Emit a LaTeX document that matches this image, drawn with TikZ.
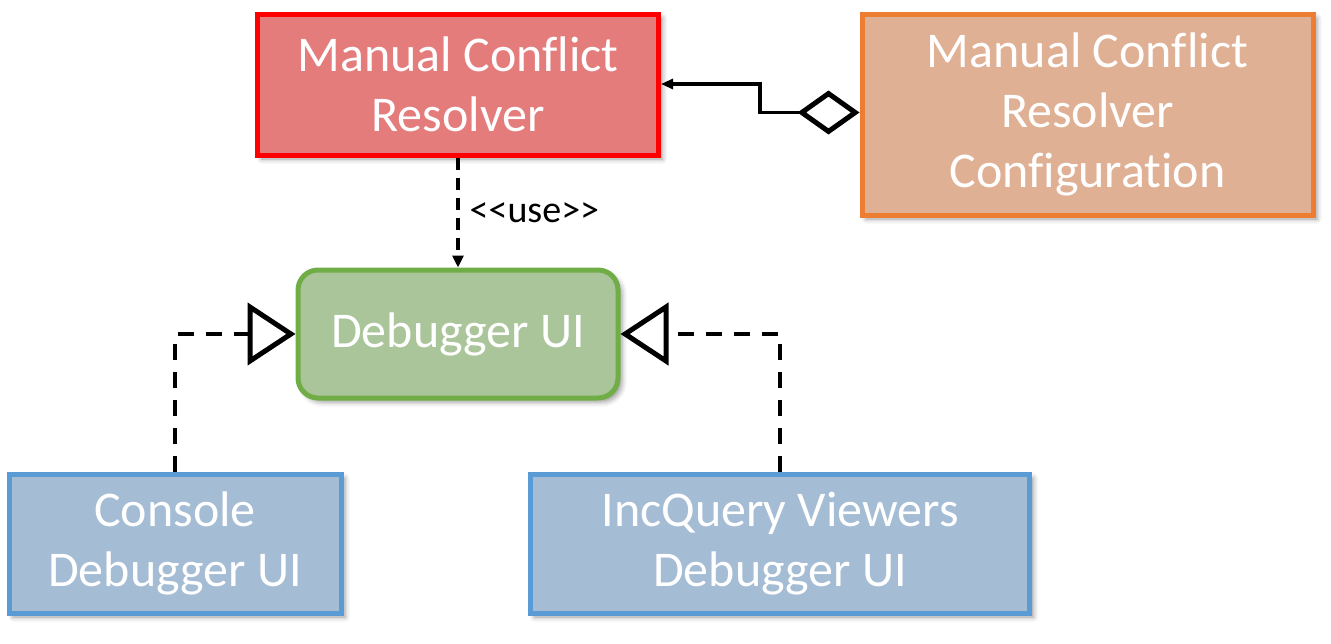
\documentclass[tikz,border=0pt]{standalone}
\usepackage{fontspec}
\setmainfont[Ligatures=NoCommon]{Carlito}
\usetikzlibrary{arrows.meta,shadows.blur}
\definecolor{redfill}{RGB}{228,124,124}
\definecolor{redline}{RGB}{255,0,0}
\definecolor{orafill}{RGB}{223,176,148}
\definecolor{oraline}{RGB}{237,125,49}
\definecolor{grnfill}{RGB}{171,197,155}
\definecolor{grnline}{RGB}{112,173,71}
\definecolor{blufill}{RGB}{164,188,212}
\definecolor{bluline}{RGB}{91,155,213}
\begin{document}
\begin{tikzpicture}[x=0.5pt,y=-0.5pt,
  box/.style={draw, line width=2.5pt, inner sep=0pt, align=center, text=white,
    font=\fontsize{25}{30}\selectfont,
    blur shadow={shadow xshift=2pt, shadow yshift=-2pt, shadow blur radius=2.5pt, shadow opacity=40}},
  realize/.style={line width=2pt, dash pattern=on 8pt off 6pt,
    -{Triangle[fill=white, line width=2.5pt, length=24pt, width=31pt]}},
  usedep/.style={line width=2pt, dash pattern=on 6pt off 4pt,
    -{Triangle[length=6pt, width=5.5pt]}},
  aggr/.style={line width=1.75pt,
    {Diamond[fill=white, line width=2.5pt, length=31pt, width=22pt]}-{Triangle[length=6pt, width=5pt]}}
]
\useasboundingbox (0,0) rectangle (1331,643);
\node[box, fill=redfill, draw=redline, minimum width=200.5pt, minimum height=70.5pt] (red) at (458,84.5) {Manual Conflict\\Resolver};
\node[box, fill=orafill, draw=oraline, minimum width=225.5pt, minimum height=100.5pt] (orange) at (1087.5,114.5) {Manual Conflict\\Resolver\\Configuration};
\node[box, fill=grnfill, draw=grnline, rounded corners=10pt, minimum width=160pt, minimum height=64pt] (green) at (458,334) {Debugger UI};
\node[box, fill=blufill, draw=bluline, minimum width=166pt, minimum height=69.5pt] (console) at (175,543.5) {Console\\Debugger UI};
\node[box, fill=blufill, draw=bluline, minimum width=249.5pt, minimum height=69.5pt] (incq) at (780,543.5) {IncQuery Viewers\\Debugger UI};

\coordinate (a1) at (760,112.5);
\coordinate (a2) at (760,84);
\draw[aggr] (orange.west |- a1) -- (a1) -- (a2) -- (red.east |- a2);

\draw[usedep] (red.south) -- (green.north) node[pos=0.5, anchor=west, xshift=1.5pt, font=\fontsize{19}{22}\selectfont] (uselbl) {<{}<use>{}>};

\draw[realize] (console.north) -- (console.north |- green.west) -- (green.west);
\draw[realize] (incq.north) -- (incq.north |- green.east) -- (green.east);
\end{tikzpicture}
\end{document}
